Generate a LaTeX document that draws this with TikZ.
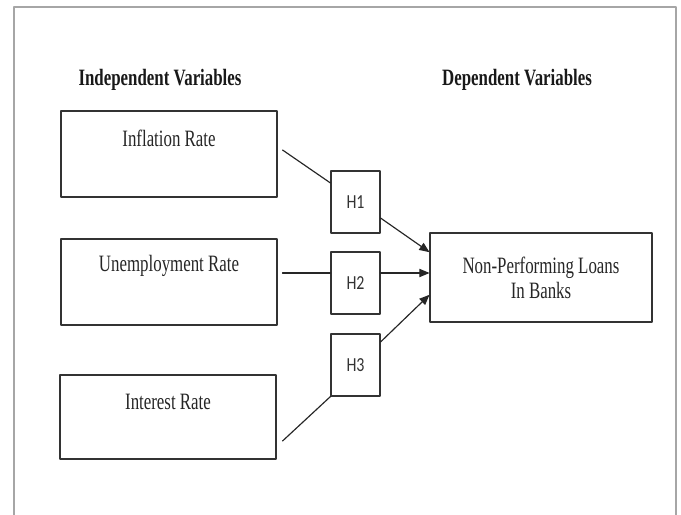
\documentclass[tikz,border=0pt]{standalone}
\usepackage{fontspec}
\setmainfont{Liberation Serif}
\newfontfamily\narrowserif[FakeStretch=0.72]{Liberation Serif}
\newfontfamily\hypfont[FakeStretch=0.8]{Carlito}
\usetikzlibrary{arrows}

\begin{document}
\begin{tikzpicture}[line cap=round,line join=round,>=triangle 45,x=0.03cm,y=-0.03cm,
    varbox/.style={draw=black!80, line width=0.9pt, minimum width=6.48cm, minimum height=2.58cm},
    vartext/.style={font=\narrowserif\fontsize{20}{21}\selectfont, text=black!85},
    hypbox/.style={draw=black!80, line width=0.9pt, minimum width=1.47cm, minimum height=1.86cm, inner sep=0pt, font=\hypfont\fontsize{17}{19}\selectfont, text=black!80},
    heading/.style={font=\narrowserif\bfseries\fontsize{20}{22}\selectfont, text=black!90, anchor=base}]
                    \useasboundingbox (0,0) rectangle (681,515);

                    % outer frame
                    \draw [gray!70, line width=1.4pt] (14,515) -- (14,7) -- (676,7) -- (676,515);

                    \node[heading] (indep) at (160,86) {Independent Variables};
                    \node[heading] (dep) at (517,86) {Dependent Variables};

                    \node[varbox, label={[vartext, yshift=0.48cm]center:Inflation Rate}] (infl) at (169,154) {};
                    \node[varbox, label={[vartext, yshift=0.48cm]center:Unemployment Rate}] (unemp) at (169,282) {};
                    \node[varbox, minimum height=2.52cm, label={[vartext, yshift=0.45cm]center:Interest Rate}] (inter) at (168,417) {};

                    \node[hypbox] (h1) at (355.5,202) {H1};
                    \node[hypbox] (h2) at (355.5,283) {H2};
                    \node[hypbox] (h3) at (355.5,365) {H3};

                    \node[draw=black!80, line width=0.9pt, minimum width=6.66cm, minimum height=2.67cm, align=center, font=\narrowserif\fontsize{20}{21.3}\selectfont, text=black!85] (npl) at (541,277.5) {Non-Performing Loans\\In Banks};

                    \coordinate (u2) at ([xshift=0.15cm, yshift=0.27cm]unemp.east);

                    \draw [line width=1pt, black!85] ([xshift=0.15cm, yshift=0.12cm]infl.east) -- ([yshift=0.57cm]h1.west);
                    \draw [line width=1pt, black!85, ->] ([yshift=-0.48cm]h1.east) -- ([yshift=0.76cm]npl.west);

                    \draw [line width=1pt, black!85] (u2) -- (u2 -| h2.west);
                    \draw [line width=1pt, black!85, ->] (u2 -| h2.east) -- (u2 -| npl.west);

                    \draw [line width=1pt, black!85] ([xshift=0.18cm, yshift=-0.72cm]inter.east) -- (h3.south west);
                    \draw [line width=1pt, black!85, ->] ([yshift=0.69cm]h3.east) -- ([yshift=-0.52cm]npl.west);
                \end{tikzpicture}
\end{document}
